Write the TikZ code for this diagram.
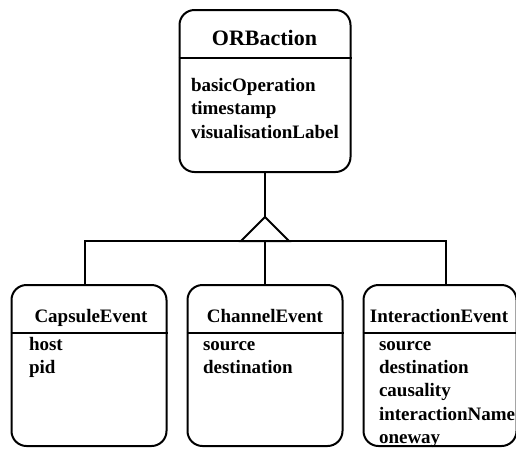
\documentclass[tikz,border=0pt]{standalone}
\usepackage{fontspec}
\newfontfamily\umlfont{Liberation Serif}
\usetikzlibrary{positioning}

\begin{document}
\begin{tikzpicture}[x=1pt,y=-1pt,line width=2pt,node distance=19pt,
    classbox/.style={draw,rounded corners=15pt,minimum width=155pt,minimum height=161pt,inner sep=0pt},
    classname/.style={font=\umlfont\bfseries\fontsize{19}{23}\selectfont,anchor=base,inner sep=0pt},
    attr/.style={font=\umlfont\bfseries\fontsize{19}{23}\selectfont,anchor=base west,inner sep=0pt}]

            \useasboundingbox (0,0) rectangle (516,448);

            % superclass
            \node[classbox,minimum width=171pt,minimum height=162pt] (orb) at (265,91) {};
            \node[classname,font=\umlfont\bfseries\fontsize{22}{26}\selectfont] (orbname) at (264.5,45) {ORBaction};
            \draw (orb.west |- 0,58) -- (orb.east |- 0,58);
            \foreach \a [count=\i] in {basicOperation,timestamp,visualisationLabel}
                \node[attr] (orb-\i) at (190,67.5+23.5*\i) {\a};

            % subclasses
            \node[classbox] (chan) at (265,365.5) {};
            \node[classbox] (cap) [left=of chan] {};
            \node[classbox,minimum width=153pt] (inter) [right=of chan] {};
            \foreach \c in {cap,chan,inter}
                \draw (\c.west |- 0,333) -- (\c.east |- 0,333);

            \node[classname] (capname) at (91,322.5) {CapsuleEvent};
            \node[classname] (channame) at (265,322.5) {ChannelEvent};
            \node[classname] (intername) at (439,322.5) {InteractionEvent};

            \foreach \a [count=\i] in {host,pid}
                \node[attr] (cap-\i) at (28,326.6+23.4*\i) {\a};
            \foreach \a [count=\i] in {source,destination}
                \node[attr] (chan-\i) at (202,326.6+23.4*\i) {\a};
            \foreach \a [count=\i] in {source,destination,causality,interactionName,oneway}
                \node[attr] (inter-\i) at (378,326.6+23.4*\i) {\a};

            % inheritance
            \coordinate (apex) at (265,217);
            \coordinate (bar) at (265,241);
            \draw (orb.south) -- (apex);
            \draw (apex) -- ++(-24,24) -- ++(48,0) -- cycle;
            \draw ([xshift=-4pt]cap.north) |- (bar) -| ([xshift=6pt]inter.north);
            \draw (bar) -- (chan.north);

        \end{tikzpicture}
\end{document}
